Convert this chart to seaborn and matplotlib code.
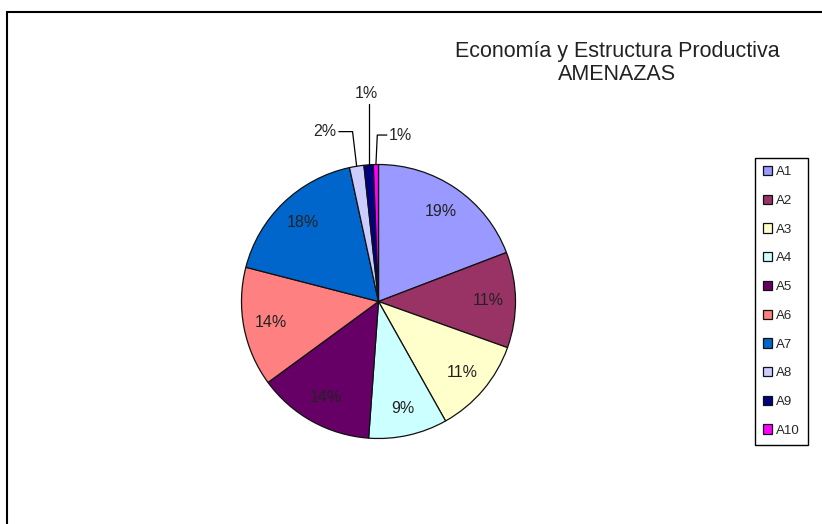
import numpy as np
import matplotlib
matplotlib.use("Agg")
import matplotlib.pyplot as plt
from matplotlib.lines import Line2D
import seaborn as sns

# data (percent of total)
labels = ['A1', 'A2', 'A3', 'A4', 'A5', 'A6', 'A7', 'A8', 'A9', 'A10']
values = [19.2, 11.3, 11.4, 9.3, 13.8, 14.1, 17.6, 1.7, 1.1, 0.6]
colors = ['#9999FF', '#993366', '#FFFFCC', '#CCFFFF', '#660066',
          '#FF8080', '#0066CC', '#CCCCFF', '#000080', '#FF00FF']
title = 'Economía y Estructura Productiva\nAMENAZAS'

sns.set_theme(style="white")
plt.rcParams['font.family'] = ['Liberation Sans', 'DejaVu Sans']

W, H = 822, 524
fig = plt.figure(figsize=(W / 100, H / 100), dpi=100)
fig.patch.set_facecolor('white')

# pie centre / radius in pixels
cx, cy, r = 378.5, 301.5, 137
half = 200
ax = fig.add_axes([(cx - half) / W, (H - cy - half) / H, 2 * half / W, 2 * half / H])
lim = half / r

palette = sns.color_palette(colors)
total = sum(values)


def pct(p):
    return '' if p < 3 else '{:.0f}%'.format(p)


wedges, texts, autotexts = ax.pie(values, colors=palette, startangle=90, counterclock=False,
                                  autopct=pct, pctdistance=0.8,
                                  wedgeprops=dict(edgecolor='#111111', linewidth=0.9),
                                  textprops=dict(fontsize=11.5, color='#222222'))
ax.set_xlim(-lim, lim)
ax.set_ylim(-lim, lim)
ax.set_aspect('equal')
ax.axis('off')


def edge_point(w):
    mid = np.deg2rad((w.theta1 + w.theta2) / 2)
    return np.cos(mid), np.sin(mid)


# leader lines for the small slices
lc = dict(color='black', lw=0.9)
ex, ey = edge_point(wedges[7])
ax.plot([ex, ex - 0.03, ex - 0.13], [ey, 1.24, 1.24], **lc)
ax.text(ex - 0.15, 1.24, '{:.0f}%'.format(values[7] / total * 100), ha='right', va='center', fontsize=11.5)

ex, ey = edge_point(wedges[8])
ax.plot([ex, ex], [ey, 1.44], **lc)
ax.text(ex - 0.02, 1.46, '{:.0f}%'.format(values[8] / total * 100), ha='center', va='bottom', fontsize=11.5)

ex, ey = edge_point(wedges[9])
ax.plot([ex, ex + 0.01, ex + 0.08], [ey, 1.215, 1.215], **lc)
ax.text(ex + 0.09, 1.215, '{:.0f}%'.format(values[9] / total * 100), ha='left', va='center', fontsize=11.5)

fig.text(617 / W, 1 - 41 / H, title, ha='center', va='top', fontsize=15.5, linespacing=1.15, color='#222222')

leg = fig.legend(wedges, labels, loc='upper left', bbox_to_anchor=(755 / W, 1 - 158 / H),
                 bbox_transform=fig.transFigure, borderaxespad=0, fontsize=9.5,
                 frameon=True, fancybox=False, edgecolor='black', framealpha=1,
                 handlelength=0.7, handleheight=0.7, handletextpad=0.3,
                 labelspacing=1.25, borderpad=0.6)
leg.get_frame().set_linewidth(1.0)

# chart area border (only left and top are visible)
fig.add_artist(Line2D([6.5 / W, 6.5 / W], [0, 1 - 11.5 / H], color='black', lw=1.5, transform=fig.transFigure))
fig.add_artist(Line2D([6.5 / W, 1], [1 - 11.5 / H, 1 - 11.5 / H], color='black', lw=1.5, transform=fig.transFigure))

fig.savefig('out.png', dpi=100)
